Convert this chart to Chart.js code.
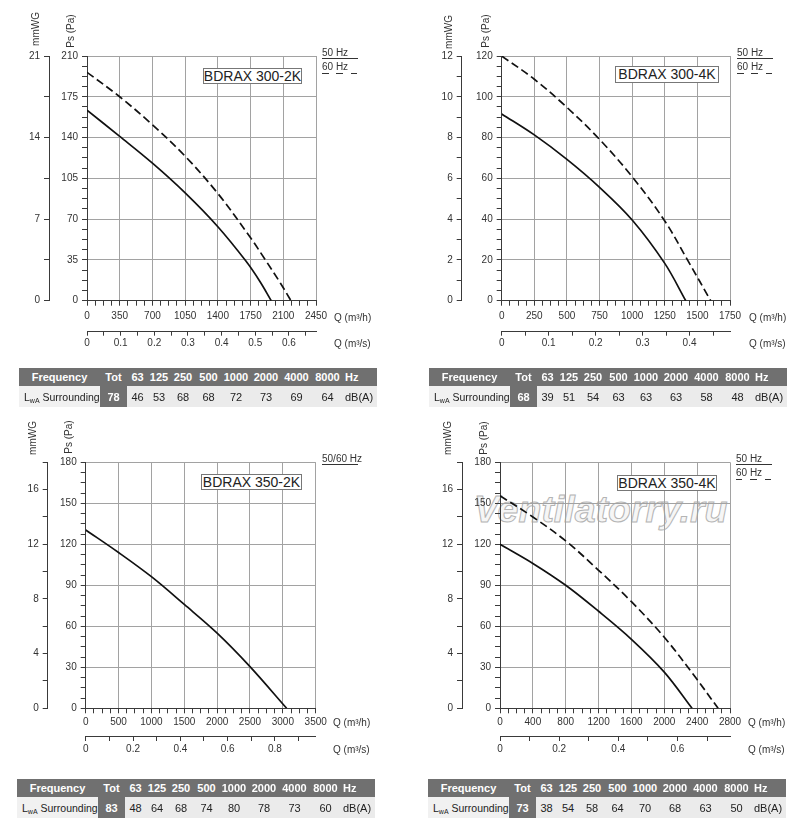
<!DOCTYPE html>
<html>
<head>
<meta charset="utf-8">
<title>BDRAX fan curves</title>
<script src="https://cdn.jsdelivr.net/npm/chart.js@4.4.1/dist/chart.umd.min.js"></script>
<style>
  body { margin: 0; background: #fff; font-family: 'Liberation Sans', Arial, sans-serif; color: #333; }
  #page { position: relative; width: 800px; height: 830px; overflow: hidden; }
  .abs { position: absolute; white-space: nowrap; }
  canvas { position: absolute; z-index: 1; }
  .rot { font-size: 10px; transform: translate(-50%, -50%) rotate(-90deg); z-index: 2; }
  .qlab { font-size: 10px; transform: translateY(-50%); z-index: 2; }
  .leg { font-size: 10px; transform: translateY(-50%); z-index: 2; }
  .line { height: 0; width: 36px; border-top: 1px solid #333; }
  .dash { height: 1px; width: 36px; background: repeating-linear-gradient(to right, #333 0 6.5px, transparent 6.5px 14.3px); }
  .model { z-index: 2; background: #fff; border: 1px solid #777; box-sizing: border-box; font-size: 14px; color: #222;
           display: flex; align-items: center; justify-content: center; }
  .wm { z-index: 0; font: italic bold 37.5px 'Liberation Sans', Arial, sans-serif; line-height: 36px;
        color: #f6f6f6; -webkit-text-stroke: 1px #b4b4b4; }
  table.spec { position: absolute; border-collapse: collapse; table-layout: fixed; font-size: 11px; z-index: 2; }
  table.spec td { padding: 0; text-align: center; white-space: nowrap; overflow: hidden; }
  tr.hd td { background: #707070; color: #fff; font-weight: bold; height: 18px; }
  tr.rw td { background: #ebebeb; color: #222; height: 21px; }
  tr.rw td.lbl { text-align: left; padding-left: 5px; background: #f1f1f1; font-size: 10.5px; }
  tr.rw td.tot { background: #707070; color: #fff; font-weight: bold; }
  table.spec td.unit { text-align: left; padding-left: 2px; }
  sub { font-size: 7px; line-height: 0; vertical-align: -2px; }
</style>
</head>
<body>
<div id="page"></div>
<script>
const models = ['BDRAX 300-2K', 'BDRAX 300-4K', 'BDRAX 350-2K', 'BDRAX 350-4K'];
const bands = ['63', '125', '250', '500', '1000', '2000', '4000', '8000'];

// BDRAX 300-2K  (Q in m3/h, Ps in Pa)
const q300_2K_50 = [0, 350, 700, 1050, 1400, 1700, 1850, 1971];
const ps300_2K_50 = [163.5, 141, 118, 92.5, 63.5, 34, 16.5, 0];
const q300_2K_60 = [0, 350, 700, 1050, 1400, 1750, 1900, 2070, 2182];
const ps300_2K_60 = [196, 175, 151, 124, 92, 54, 36, 15, 0];
const qTicks300_2K = [0, 350, 700, 1050, 1400, 1750, 2100, 2450];
const psTicks300_2K = [0, 35, 70, 105, 140, 175, 210];
const wgTicks300_2K = [0, 7, 14, 21];
const qsTicks300_2K = [0, 0.1, 0.2, 0.3, 0.4, 0.5, 0.6];
const lwaTot300_2K = 78;
const lwa300_2K = [46, 53, 68, 68, 72, 73, 69, 64];

// BDRAX 300-4K
const q300_4K_50 = [0, 250, 500, 750, 1000, 1250, 1411];
const ps300_4K_50 = [91.6, 81.3, 69.3, 55.6, 39.6, 18.3, 0];
const q300_4K_60 = [0, 250, 500, 750, 1000, 1250, 1424, 1602];
const ps300_4K_60 = [120, 108.6, 94.8, 79.1, 60.8, 39.1, 20, 0];
const qTicks300_4K = [0, 250, 500, 750, 1000, 1250, 1500, 1750];
const psTicks300_4K = [0, 20, 40, 60, 80, 100, 120];
const wgTicks300_4K = [0, 2, 4, 6, 8, 10, 12];
const qsTicks300_4K = [0, 0.1, 0.2, 0.3, 0.4];
const lwaTot300_4K = 68;
const lwa300_4K = [39, 51, 54, 63, 63, 63, 58, 48];

// BDRAX 350-2K (one curve for 50/60 Hz)
const q350_2K = [0, 500, 1000, 1500, 2000, 2500, 3058];
const ps350_2K = [130.5, 114, 96.3, 76, 55, 30.5, 0];
const qTicks350_2K = [0, 500, 1000, 1500, 2000, 2500, 3000, 3500];
const psTicks350_2K = [0, 30, 60, 90, 120, 150, 180];
const wgTicks350_2K = [0, 4, 8, 12, 16];
const qsTicks350_2K = [0, 0.2, 0.4, 0.6, 0.8];
const lwaTot350_2K = 83;
const lwa350_2K = [48, 64, 68, 74, 80, 78, 73, 60];

// BDRAX 350-4K
const q350_4K_50 = [0, 400, 800, 1200, 1600, 2000, 2338];
const ps350_4K_50 = [120, 106, 90, 71, 50.5, 26.5, 0];
const q350_4K_60 = [0, 400, 800, 1200, 1600, 2000, 2400, 2655];
const ps350_4K_60 = [155.5, 140, 122.5, 101, 78, 52, 21, 0];
const qTicks350_4K = [0, 400, 800, 1200, 1600, 2000, 2400, 2800];
const psTicks350_4K = [0, 30, 60, 90, 120, 150, 180];
const wgTicks350_4K = [0, 4, 8, 12, 16];
const qsTicks350_4K = [0, 0.2, 0.4, 0.6];
const lwaTot350_4K = 73;
const lwa350_4K = [38, 54, 58, 64, 70, 68, 63, 50];

const AXIS = '#3a3a3a';
const GRID = '#a2a2a2';
const FONT = "'Liberation Sans', Arial, sans-serif";
const colWidths = [81, 27, 21, 22, 26, 25, 30, 30, 31, 31, 34];

Chart.defaults.font.family = FONT;

const page = document.getElementById('page');

const panels = [
  {
    model: models[0], qT: qTicks300_2K, psT: psTicks300_2K, wgT: wgTicks300_2K, qsT: qsTicks300_2K,
    curves: [[q300_2K_50, ps300_2K_50, false], [q300_2K_60, ps300_2K_60, true]],
    legend: ['50 Hz', '60 Hz'], tot: lwaTot300_2K, lwa: lwa300_2K,
    box: { left: 0, top: 0, w: 400, h: 360 }, pad: { left: 19, right: 84, top: 56, bottom: 8.3 },
    yW: 38, xH: 31, xTick: 5, xPad: 5, x2Tick: 4, x2Pad: 1.6,
    wgAt: [35, 29], psAt: [70, 31], qAt: [334, 317, 343], legAt: [322, 51.7],
    modelAt: [203, 68, 99, 16], tableAt: [19, 368]
  },
  {
    model: models[1], qT: qTicks300_4K, psT: psTicks300_4K, wgT: wgTicks300_4K, qsT: qsTicks300_4K,
    curves: [[q300_4K_50, ps300_4K_50, false], [q300_4K_60, ps300_4K_60, true]],
    legend: ['50 Hz', '60 Hz'], tot: lwaTot300_4K, lwa: lwa300_4K,
    box: { left: 400, top: 0, w: 400, h: 360 }, pad: { left: 31.7, right: 70, top: 56, bottom: 8.3 },
    yW: 40, xH: 31, xTick: 5, xPad: 5, x2Tick: 4, x2Pad: 1.6,
    wgAt: [448, 32], psAt: [485, 31], qAt: [749, 317, 343], legAt: [737, 51.7],
    modelAt: [615, 65.5, 104, 17.5], tableAt: [429, 368]
  },
  {
    model: models[2], qT: qTicks350_2K, psT: psTicks350_2K, wgT: wgTicks350_2K, qsT: qsTicks350_2K,
    curves: [[q350_2K, ps350_2K, false]],
    legend: ['50/60 Hz'], tot: lwaTot350_2K, lwa: lwa350_2K,
    box: { left: 0, top: 400, w: 400, h: 370 }, pad: { left: 17.7, right: 84.3, top: 62.3, bottom: 14 },
    yW: 38, xH: 27.7, xTick: 5, xPad: 2.5, x2Tick: 5, x2Pad: 2,
    wgAt: [32, 438], psAt: [68, 437], qAt: [333, 721.7, 749], legAt: [322, 457.7],
    modelAt: [201, 474, 101, 16], tableAt: [17, 779]
  },
  {
    model: models[3], qT: qTicks350_4K, psT: psTicks350_4K, wgT: wgTicks350_4K, qsT: qsTicks350_4K,
    curves: [[q350_4K_50, ps350_4K_50, false], [q350_4K_60, ps350_4K_60, true]],
    legend: ['50 Hz', '60 Hz'], tot: lwaTot350_4K, lwa: lwa350_4K,
    box: { left: 400, top: 400, w: 400, h: 370 }, pad: { left: 32, right: 70, top: 62.3, bottom: 14 },
    yW: 38, xH: 27.7, xTick: 5, xPad: 2.5, x2Tick: 5, x2Pad: 2,
    wgAt: [447, 438], psAt: [483, 438], qAt: [748, 721.7, 749], legAt: [736, 457.7],
    modelAt: [617, 475, 100, 16], tableAt: [428, 779], watermark: [474, 491]
  }
];

function isMajor(v, step) {
  return Math.abs(v / step - Math.round(v / step)) < 1e-6;
}

function fmt(v) {
  return String(Math.round(v * 1000) / 1000);
}

function put(cls, html, x, y, css) {
  const el = document.createElement('div');
  el.className = 'abs ' + cls;
  el.innerHTML = html;
  el.style.left = x + 'px';
  el.style.top = y + 'px';
  if (css) Object.assign(el.style, css);
  page.appendChild(el);
  return el;
}

function axisTicks(step, minor, tickLen, pad, extra) {
  return Object.assign({
    grid: {
      color: ctx => isMajor(ctx.tick.value, step) ? GRID : 'rgba(0,0,0,0)',
      tickColor: AXIS, tickLength: tickLen, lineWidth: 1
    },
    border: { color: AXIS, width: 1 },
    ticks: {
      stepSize: minor, autoSkip: false, maxRotation: 0, padding: pad,
      color: '#333', font: { size: 10 },
      callback: v => isMajor(v, step) ? fmt(v) : ''
    }
  }, extra);
}

function sideAxis(step, minor, tickLen, pad, extra) {
  const a = axisTicks(step, minor, tickLen, pad, extra);
  a.grid = { drawOnChartArea: false, color: AXIS, tickLength: tickLen, lineWidth: 1 };
  return a;
}

function makeChart(p) {
  const qMax = p.qT[p.qT.length - 1], qStep = p.qT[1];
  const psMax = p.psT[p.psT.length - 1], psStep = p.psT[1];
  const wgMax = psMax / 10, wgStep = p.wgT[1];
  const qsMax = qMax / 3600, qsStep = p.qsT[1];

  const canvas = document.createElement('canvas');
  canvas.width = p.box.w;
  canvas.height = p.box.h;
  canvas.style.left = p.box.left + 'px';
  canvas.style.top = p.box.top + 'px';
  page.appendChild(canvas);

  const x = axisTicks(qStep, qStep / 4, p.xTick, p.xPad, {
    type: 'linear', position: 'bottom', min: 0, max: qMax, weight: 0,
    afterFit: s => { s.height = p.xH; }
  });
  const x2 = sideAxis(qsStep, qsStep / 2, p.x2Tick, p.x2Pad, {
    type: 'linear', position: 'bottom', min: 0, max: qsMax, weight: 1,
    afterFit: s => { s.height = 20; }
  });
  x2.ticks.includeBounds = false;
  const y = axisTicks(psStep, psStep / 4, 5, 4, {
    type: 'linear', position: 'left', min: 0, max: psMax, weight: 0,
    afterFit: s => { s.width = p.yW; }
  });
  const y2 = sideAxis(wgStep, wgStep / 2, 5, 4, {
    type: 'linear', position: 'left', min: 0, max: wgMax, weight: 1,
    afterFit: s => { s.width = 30; }
  });

  new Chart(canvas, {
    type: 'scatter',
    data: {
      datasets: p.curves.map(c => ({
        data: c[0].map((q, i) => ({ x: q, y: c[1][i] })),
        showLine: true,
        borderColor: '#111',
        borderWidth: 1.7,
        borderDash: c[2] ? [8, 4] : [],
        pointRadius: 0,
        tension: 0.35,
        fill: false,
        xAxisID: 'x',
        yAxisID: 'y'
      }))
    },
    options: {
      responsive: false,
      animation: false,
      layout: { padding: p.pad },
      plugins: { legend: { display: false }, tooltip: { enabled: false } },
      scales: { x, x2, y, y2 }
    }
  });
}

function makeTable(p) {
  const t = document.createElement('table');
  t.className = 'spec';
  t.style.left = p.tableAt[0] + 'px';
  t.style.top = p.tableAt[1] + 'px';
  t.style.width = colWidths.reduce((a, b) => a + b, 0) + 'px';
  let html = '<colgroup>' + colWidths.map(w => `<col style="width:${w}px">`).join('') + '</colgroup>';
  html += '<tr class="hd"><td>Frequency</td><td>Tot</td>' +
    bands.map(b => `<td>${b}</td>`).join('') + '<td class="unit">Hz</td></tr>';
  html += '<tr class="rw"><td class="lbl">L<sub>wA</sub> Surrounding</td>' +
    `<td class="tot">${p.tot}</td>` +
    p.lwa.map(v => `<td>${v}</td>`).join('') + '<td class="unit">dB(A)</td></tr>';
  t.innerHTML = html;
  page.appendChild(t);
}

function makeLabels(p) {
  put('rot', 'mmWG', p.wgAt[0], p.wgAt[1]);
  put('rot', 'Ps (Pa)', p.psAt[0], p.psAt[1]);
  put('qlab', 'Q (m³/h)', p.qAt[0], p.qAt[1]);
  put('qlab', 'Q (m³/s)', p.qAt[0], p.qAt[2]);
  p.legend.forEach((txt, i) => {
    const ty = p.legAt[1] + i * 14.3;
    put('leg', txt, p.legAt[0], ty);
    put(i === 0 ? 'line' : 'dash', '', p.legAt[0], ty + 6.5);
  });
  const m = p.modelAt;
  put('model', p.model, m[0], m[1], { width: m[2] + 'px', height: m[3] + 'px' });
  if (p.watermark) put('wm', 'Ventilatorry.ru', p.watermark[0], p.watermark[1]);
}

panels.forEach(p => {
  makeChart(p);
  makeLabels(p);
  makeTable(p);
});
</script>
</body>
</html>
